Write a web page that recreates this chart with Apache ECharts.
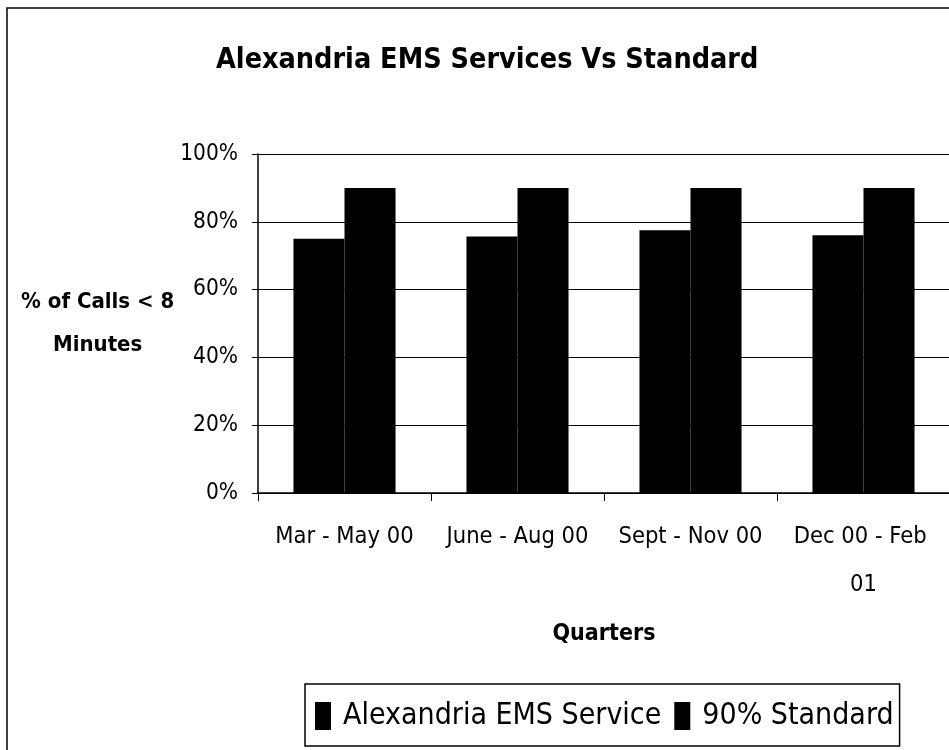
<!DOCTYPE html>
<html>
<head>
<meta charset="utf-8">
<script src="https://cdn.jsdelivr.net/npm/echarts@6/dist/echarts.min.js"></script>
<style>
  html, body { margin: 0; padding: 0; background: #fff; }
  #chart { width: 949px; height: 750px; }
</style>
</head>
<body>
<div id="chart"></div>
<script>
// 数据
var quarters = ['Mar - May 00', 'June - Aug 00', 'Sept - Nov 00', 'Dec 00 - Feb 01']
var emsService = [75, 75.7, 77.5, 76]
var standard90 = [90, 90, 90, 90]
var yTicks = [0, 20, 40, 60, 80, 100]

var narrow = "'Liberation Sans Narrow', 'Arial Narrow', 'DejaVu Sans Condensed', sans-serif"

var chart = echarts.init(document.getElementById('chart'))

var option = {
  backgroundColor: '#fff',
  animation: false,
  title: {
    text: 'Alexandria EMS Services Vs Standard',
    left: 211,
    top: 36,
    padding: 5,
    textStyle: { fontFamily: narrow, fontSize: 28.5, fontWeight: 'bold', color: '#000', lineHeight: 40 }
  },
  legend: {
    left: 305,
    top: 684,
    orient: 'horizontal',
    data: ['Alexandria EMS Service', '90% Standard'],
    icon: 'rect',
    itemWidth: 16,
    itemHeight: 28,
    itemGap: 13,
    padding: [12, 6, 10, 10],
    borderColor: '#000',
    borderWidth: 1.5,
    borderRadius: 0,
    textStyle: { fontFamily: narrow, fontSize: 30, color: '#000', lineHeight: 40, padding: [0, 0, 0, 7] }
  },
  grid: { left: 258, top: 154, width: 692, height: 339, containLabel: false, outerBoundsMode: 'none' },
  xAxis: {
    type: 'category',
    data: quarters,
    name: 'Quarters',
    nameLocation: 'middle',
    nameGap: 141,
    nameTextStyle: { fontFamily: narrow, fontSize: 23, fontWeight: 'bold', color: '#000', verticalAlign: 'middle' },
    axisLine: { lineStyle: { color: '#000', width: 1.5 } },
    axisTick: { show: true, length: 8, lineStyle: { color: '#000' } },
    axisLabel: {
      fontFamily: narrow, fontSize: 23.5, color: '#000', margin: 20, lineHeight: 48,
      width: 155, overflow: 'break', interval: 0
    }
  },
  yAxis: {
    type: 'value',
    min: 0,
    max: 100,
    interval: 20,
    name: '% of Calls < 8\nMinutes',
    nameLocation: 'middle',
    nameRotate: 0,
    nameGap: 160,
    nameTextStyle: { fontFamily: narrow, fontSize: 22, fontWeight: 'bold', color: '#000', align: 'center', lineHeight: 43 },
    axisLine: { show: true, lineStyle: { color: '#000', width: 1.5 } },
    axisTick: { show: true, length: 6, lineStyle: { color: '#000' } },
    axisLabel: {
      fontFamily: narrow, fontSize: 22.5, color: '#000', margin: 20,
      formatter: function (v) { return yTicks.indexOf(v) > -1 ? v + '%' : '' }
    },
    splitLine: { show: true, lineStyle: { color: '#000', width: 1.2 } }
  },
  series: [
    {
      name: 'Alexandria EMS Service',
      type: 'bar',
      data: emsService,
      barGap: '0%',
      barCategoryGap: '41%',
      itemStyle: { color: '#000' }
    },
    {
      name: '90% Standard',
      type: 'bar',
      data: standard90,
      itemStyle: { color: '#000' }
    }
  ],
  graphic: [
    {
      type: 'rect',
      shape: { x: 7, y: 8, width: 1000, height: 800 },
      style: { fill: 'none', stroke: '#000', lineWidth: 1.5 },
      silent: true,
      z: 100
    }
  ]
}

chart.setOption(option)
</script>
</body>
</html>
